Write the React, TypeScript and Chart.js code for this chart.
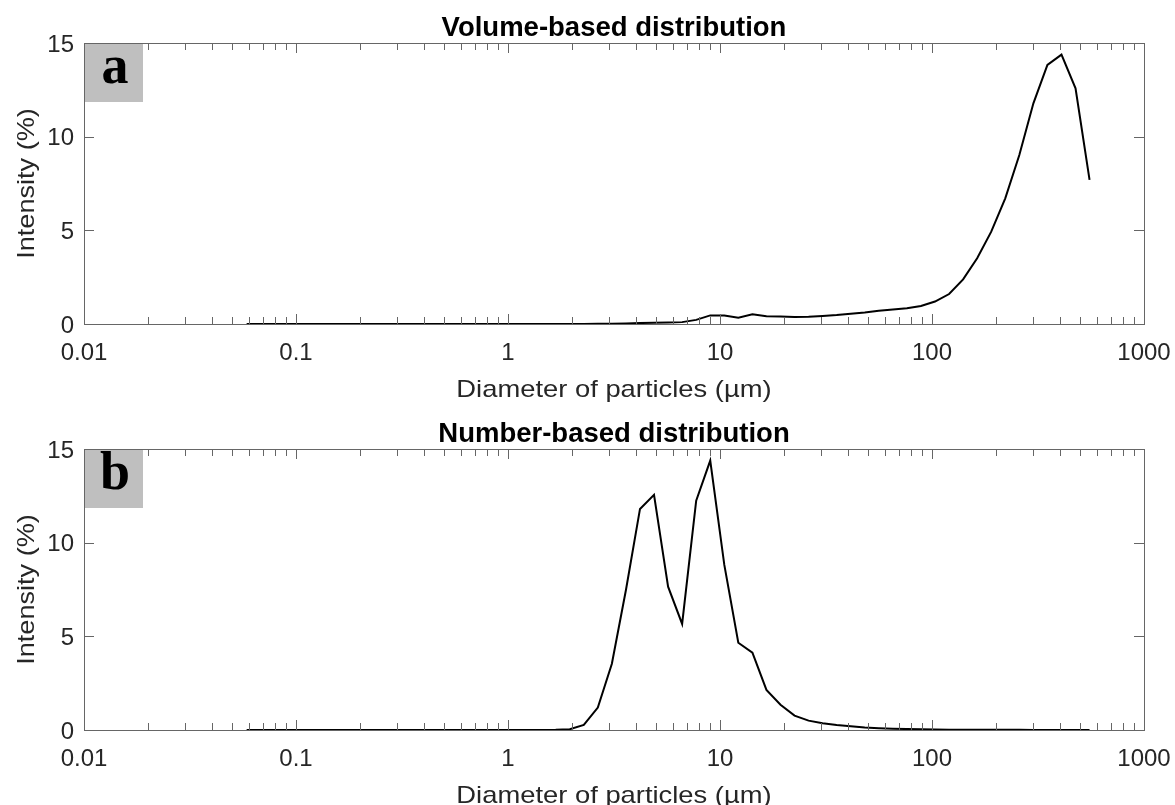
import { useEffect, useRef } from 'react';
import { Chart, registerables } from 'chart.js';

Chart.register(...registerables);

// Particle size classes (µm)
const diameters = [
  0.0585, 0.0681, 0.0793, 0.0924, 0.1077, 0.1254, 0.1461, 0.1702, 0.1983, 0.2309,
  0.269, 0.3133, 0.3649, 0.425, 0.4951, 0.5768, 0.6719, 0.7827, 0.9118, 1.062,
  1.237, 1.441, 1.679, 1.956, 2.278, 2.653, 3.09, 3.6, 4.194, 4.884,
  5.69, 6.628, 7.721, 8.994, 10.48, 12.2, 14.22, 16.56, 19.29, 22.47,
  26.17, 30.48, 35.51, 41.37, 48.18, 56.12, 65.38, 76.15, 88.71, 103.3,
  120.4, 140.2, 163.3, 190.3, 221.6, 258.2, 300.8, 350.3, 408.1, 475.4,
  553.6,
];

// (a) Volume-based distribution, intensity (%)
const volumeIntensity = [
  0, 0, 0, 0, 0, 0, 0, 0, 0, 0,
  0, 0, 0, 0, 0, 0, 0, 0, 0, 0,
  0, 0, 0, 0, 0, 0.01, 0.02, 0.03, 0.05, 0.07,
  0.08, 0.1, 0.22, 0.46, 0.45, 0.33, 0.52, 0.41, 0.4, 0.37,
  0.39, 0.43, 0.48, 0.55, 0.62, 0.71, 0.78, 0.84, 0.96, 1.2,
  1.6, 2.38, 3.51, 4.93, 6.71, 9.02, 11.78, 13.83, 14.38, 12.58,
  7.69,
];

// (b) Number-based distribution, intensity (%)
const numberIntensity = [
  0, 0, 0, 0, 0, 0, 0, 0, 0, 0,
  0, 0, 0, 0, 0, 0, 0, 0, 0, 0,
  0, 0, 0.01, 0.04, 0.27, 1.2, 3.54, 7.47, 11.8, 12.55,
  7.65, 5.66, 12.24, 14.38, 8.81, 4.66, 4.13, 2.14, 1.35, 0.77,
  0.5, 0.36, 0.27, 0.2, 0.14, 0.1, 0.07, 0.05, 0.04, 0.03,
  0.02, 0.015, 0.01, 0.01, 0.01, 0.01, 0, 0, 0, 0,
  0,
];

const xTickValues = [0.01, 0.1, 1, 10, 100, 1000];
const xTickLabels = ['0.01', '0.1', '1', '10', '100', '1000'];
const yTickValues = [0, 5, 10, 15];
const yTickLabels = ['0', '5', '10', '15'];
const panelTitles = ['Volume-based distribution', 'Number-based distribution'];
const panelLetters = ['a', 'b'];
const xAxisTitle = 'Diameter of particles (µm)';
const yAxisTitle = 'Intensity (%)';

const SANS = '"Liberation Sans", Arial, Helvetica, sans-serif';
const SERIF = '"Liberation Serif", "Times New Roman", serif';
const AXIS_COLOR = '#666666';
const TEXT_COLOR = '#262626';

const matlabAxes = {
  id: 'matlabAxes',
  afterDatasetsDraw(chart: any, _args: any, opts: any) {
    const { ctx, chartArea: a } = chart;
    const xs = chart.scales.x;
    const ys = chart.scales.y;
    ctx.save();

    // panel letter box
    ctx.fillStyle = '#bfbfbf';
    ctx.fillRect(a.left, a.top, 59, 59);
    ctx.fillStyle = '#000';
    ctx.font = `bold 54px ${SERIF}`;
    ctx.textAlign = 'center';
    ctx.textBaseline = 'alphabetic';
    ctx.fillText(opts.letter, a.left + 31, a.top + 40);

    // box
    ctx.strokeStyle = AXIS_COLOR;
    ctx.lineWidth = 1;
    ctx.strokeRect(a.left + 0.5, a.top + 0.5, a.right - a.left, a.bottom - a.top);

    // x ticks (inside, top and bottom)
    ctx.beginPath();
    for (let i = 0; i < xTickValues.length; i++) {
      const px = Math.round(xs.getPixelForValue(xTickValues[i])) + 0.5;
      ctx.moveTo(px, a.bottom);
      ctx.lineTo(px, a.bottom - 10);
      ctx.moveTo(px, a.top);
      ctx.lineTo(px, a.top + 10);
      if (i < xTickValues.length - 1) {
        for (let m = 2; m <= 9; m++) {
          const mp = Math.round(xs.getPixelForValue(xTickValues[i] * m)) + 0.5;
          ctx.moveTo(mp, a.bottom);
          ctx.lineTo(mp, a.bottom - 7);
          ctx.moveTo(mp, a.top);
          ctx.lineTo(mp, a.top + 7);
        }
      }
    }
    // y ticks (inside, left and right)
    for (const v of yTickValues) {
      const py = Math.round(ys.getPixelForValue(v)) + 0.5;
      ctx.moveTo(a.left, py);
      ctx.lineTo(a.left + 10, py);
      ctx.moveTo(a.right, py);
      ctx.lineTo(a.right - 10, py);
    }
    ctx.stroke();

    // title
    ctx.fillStyle = '#000';
    ctx.font = `bold 27.5px ${SANS}`;
    ctx.textAlign = 'center';
    ctx.fillText(opts.title, (a.left + a.right) / 2, a.top - 7.5);

    // axis titles
    ctx.fillStyle = TEXT_COLOR;
    ctx.font = `24px ${SANS}`;
    ctx.save();
    ctx.translate((a.left + a.right) / 2, a.bottom + 73);
    ctx.scale(1.14, 1);
    ctx.fillText(xAxisTitle, 0, 0);
    ctx.restore();

    ctx.save();
    ctx.translate(33.5, (a.top + a.bottom) / 2);
    ctx.rotate(-Math.PI / 2);
    ctx.scale(1.13, 1);
    ctx.fillText(yAxisTitle, 0, 0);
    ctx.restore();

    ctx.restore();
  },
};

function Panel({ values, index, top }: { values: number[]; index: number; top: number }) {
  const ref = useRef<HTMLCanvasElement>(null);
  useEffect(() => {
    const chart = new Chart(ref.current as HTMLCanvasElement, {
      type: 'line',
      data: {
        datasets: [
          {
            data: diameters.map((d, i) => ({ x: d, y: values[i] })),
            borderColor: '#000',
            borderWidth: 2,
            pointRadius: 0,
            tension: 0,
            fill: false,
            borderJoinStyle: 'miter',
          },
        ],
      },
      options: {
        animation: false,
        responsive: false,
        maintainAspectRatio: false,
        layout: { padding: { top: 43, right: 31, bottom: 0, left: 0 } },
        plugins: {
          legend: { display: false },
          title: { display: false },
          tooltip: { enabled: false },
          matlabAxes: { title: panelTitles[index], letter: panelLetters[index] },
        } as any,
        scales: {
          x: {
            type: 'logarithmic',
            min: 0.01,
            max: 1000,
            afterBuildTicks: (s: any) => {
              s.ticks = xTickValues.map((v) => ({ value: v }));
            },
            afterFit: (s: any) => {
              s.height = 82;
              s.paddingLeft = 0;
              s.paddingRight = 0;
            },
            ticks: {
              autoSkip: false,
              maxRotation: 0,
              minRotation: 0,
              padding: 15,
              color: TEXT_COLOR,
              font: { family: SANS, size: 24 },
              callback: (_v: any, i: number) => xTickLabels[i],
            },
            grid: { display: false, drawTicks: false },
            border: { display: false },
          },
          y: {
            type: 'linear',
            min: 0,
            max: 15,
            afterBuildTicks: (s: any) => {
              s.ticks = yTickValues.map((v) => ({ value: v }));
            },
            afterFit: (s: any) => {
              s.width = 84;
              s.paddingTop = 0;
              s.paddingBottom = 0;
            },
            ticks: {
              padding: 10,
              labelOffset: 2,
              color: TEXT_COLOR,
              font: { family: SANS, size: 24 },
              callback: (_v: any, i: number) => yTickLabels[i],
            },
            grid: { display: false, drawTicks: false },
            border: { display: false },
          },
        },
      } as any,
      plugins: [matlabAxes],
    });
    return () => chart.destroy();
  }, [values, index]);
  return (
    <canvas
      ref={ref}
      width={1175}
      height={406}
      style={{ position: 'absolute', left: 0, top, display: 'block' }}
    />
  );
}

export default function App() {
  return (
    <div
      style={{
        position: 'absolute',
        left: 0,
        top: 0,
        width: 1175,
        height: 805,
        overflow: 'hidden',
        background: '#fff',
      }}
    >
      <Panel values={volumeIntensity} index={0} top={0} />
      <Panel values={numberIntensity} index={1} top={406} />
    </div>
  );
}
